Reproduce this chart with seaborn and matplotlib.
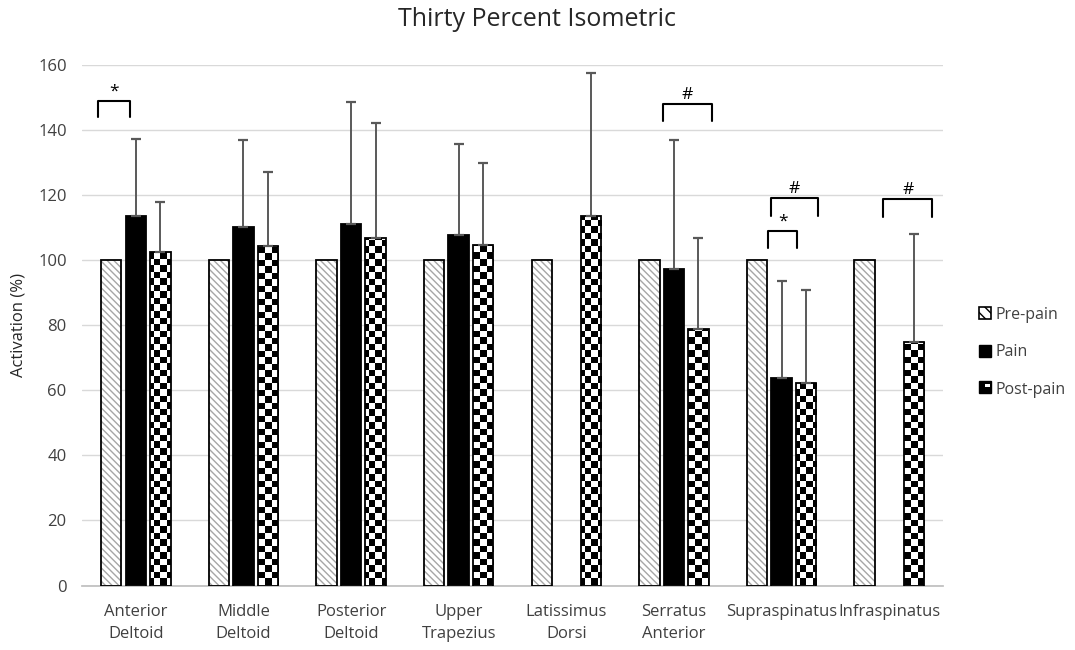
import numpy as np
import pandas as pd
import matplotlib
matplotlib.use("Agg")
import matplotlib.pyplot as plt
import seaborn as sns
from matplotlib.patches import Rectangle
from matplotlib.legend_handler import HandlerBase

# data
muscles = ["Anterior\nDeltoid", "Middle\nDeltoid", "Posterior\nDeltoid", "Upper\nTrapezius",
           "Latissimus\nDorsi", "Serratus\nAnterior", "Supraspinatus", "Infraspinatus"]
conditions = ["Pre-pain", "Pain", "Post-pain"]
pre_pain = [100, 100, 100, 100, 100, 100, 100, 100]
pain = [113.6, 110.3, 111.1, 107.7, np.nan, 97.2, 63.8, np.nan]
post_pain = [102.4, 104.5, 106.8, 104.6, 113.5, 78.8, 62.2, 74.8]
pain_sd = [23.7, 26.6, 37.5, 28.0, np.nan, 39.7, 29.8, np.nan]
post_sd = [15.6, 22.6, 35.3, 25.2, 44.0, 28.0, 28.6, 33.2]

# significance brackets: (muscle index, left offset, right offset, top, bottom, mark)
brackets = [
    (0, -0.35, -0.05, 149.0, 143.9, "*"),
    (5, -0.10, 0.35, 148.0, 142.7, "#"),
    (6, -0.10, 0.34, 119.0, 113.5, "#"),
    (6, -0.125, 0.145, 109.0, 103.8, "*"),
    (7, -0.055, 0.40, 118.7, 113.3, "#"),
]

df = pd.DataFrame({
    "muscle": muscles * 3,
    "condition": np.repeat(conditions, len(muscles)),
    "value": pre_pain + pain + post_pain,
})
sd_lookup = {"Pain": pain_sd, "Post-pain": post_sd}

sns.set_theme(style="white")
plt.rcParams["font.family"] = ["Open Sans", "DejaVu Sans"]

fig = plt.figure(figsize=(10.75, 6.5), dpi=100)
ax = fig.add_axes([82 / 1075, 1 - 585.5 / 650, 861 / 1075, 520.5 / 650])

sns.barplot(data=df, x="muscle", y="value", hue="condition", order=muscles,
            hue_order=conditions, palette=["white", "black", "white"],
            width=0.684, gap=0.167, errorbar=None, legend=False, ax=ax,
            linewidth=0, zorder=2)

ax.set_xlim(-0.5, 7.5)
ax.set_ylim(0, 160)
ax.set_yticks(range(0, 161, 20))

# checkerboard texture for post-pain bars
nx, ny = 132, 80
checker = np.indices((ny, nx)).sum(axis=0) % 2

for cond, cont in zip(conditions, ax.containers):
    for bar in cont:
        h = bar.get_height()
        if not np.isfinite(h) or h == 0:
            continue
        x0, w = bar.get_x(), bar.get_width()
        xc = x0 + w / 2
        i = int(round(xc))
        if cond == "Pre-pain":
            bar.set_facecolor("white")
            bar.set_hatch("\\\\\\\\\\")
            bar.set_edgecolor("#a6a6a6")
            bar.set_linewidth(0)
        elif cond == "Post-pain":
            im = ax.imshow(checker, cmap="gray_r", extent=(-0.5, 7.5, 0, 160),
                           aspect="auto", interpolation="nearest", zorder=2.5)
            im.set_clip_path(bar)
        ax.add_patch(Rectangle((x0, 0), w, h, fill=False, edgecolor="black",
                               linewidth=1.3, zorder=3))
        if cond in sd_lookup:
            ax.errorbar(xc, h, yerr=[[0], [sd_lookup[cond][i]]], fmt="none",
                        ecolor="#595959", elinewidth=1.4, capsize=3.8,
                        capthick=1.6, zorder=4)

ax.set_aspect("auto")

for i, x0, x1, top, bot, mark in brackets:
    ax.plot([i + x0, i + x0, i + x1, i + x1], [bot, top, top, bot], color="black",
            lw=1.5, zorder=5, solid_joinstyle="round")
    ax.text(i + (x0 + x1) / 2, top + 0.3, mark, ha="center", va="bottom",
            fontsize=12.5, color="black")

ax.grid(axis="y", color="#d9d9d9", lw=1, zorder=0)
ax.set_axisbelow(True)
for s in ["left", "right", "top"]:
    ax.spines[s].set_visible(False)
ax.spines["bottom"].set_color("#bfbfbf")
ax.tick_params(axis="y", length=0, labelsize=12, pad=11)
ax.tick_params(axis="x", length=0, labelsize=12, pad=13)
for lab in ax.get_xticklabels() + ax.get_yticklabels():
    lab.set_color("#404040")
for lab in ax.get_xticklabels():
    lab.set_linespacing(1.55)
ax.set_xlabel("")
ax.set_ylabel("Activation (%)", fontsize=12, color="#262626", labelpad=8)
fig.suptitle("Thirty Percent Isometric", fontsize=18, color="#262626", y=0.99)


class CheckerHandler(HandlerBase):
    def create_artists(self, legend, orig, xd, yd, w, h, fs, trans):
        base = Rectangle((xd, yd), w, h, facecolor="black", edgecolor="black",
                         lw=1, transform=trans)
        notch = Rectangle((xd + w * 0.5, yd + h * 0.5), w * 0.35, h * 0.3,
                          facecolor="white", edgecolor="none", transform=trans)
        return [base, notch]


h_pre = Rectangle((0, 0), 1, 1, facecolor="white", edgecolor="black", hatch="\\\\\\", lw=1.2)
h_pain = Rectangle((0, 0), 1, 1, facecolor="black", edgecolor="black")
h_post = Rectangle((0, 0), 1, 1, facecolor="black")
fig.legend([h_pre, h_pain, h_post], conditions, loc="center left",
           bbox_to_anchor=(0.897, 0.458), frameon=False, fontsize=11.5,
           handlelength=0.8, handleheight=0.8, handletextpad=0.25,
           labelspacing=1.35, labelcolor="#404040",
           handler_map={h_post: CheckerHandler()})

fig.savefig("out.png", dpi=100)
